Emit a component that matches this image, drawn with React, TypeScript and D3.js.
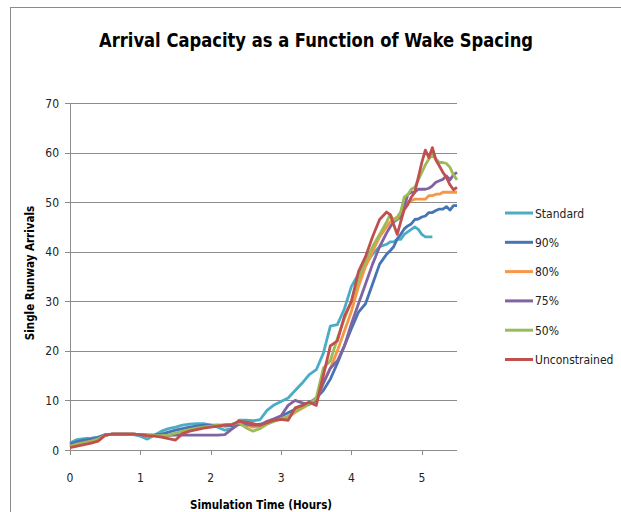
import React from 'react';
import * as d3 from 'd3';

const hours = [
  0, 0.1, 0.2, 0.3, 0.4, 0.5, 0.6, 0.7, 0.8, 0.9,
  1.0, 1.1, 1.2, 1.3, 1.4, 1.5, 1.6, 1.7, 1.8, 1.9,
  2.0, 2.1, 2.2, 2.3, 2.4, 2.5, 2.6, 2.7, 2.8, 2.9,
  3.0, 3.1, 3.2, 3.3, 3.4, 3.5, 3.6, 3.7, 3.8, 3.9,
  4.0, 4.1, 4.2, 4.3, 4.4, 4.5,
  4.55, 4.6, 4.65, 4.7, 4.75, 4.8, 4.85, 4.9, 4.95, 5.0,
  5.05, 5.1, 5.15, 5.2, 5.25, 5.3, 5.35, 5.4, 5.45, 5.5,
];

const standard = [
  1.4, 2.1, 2.3, 2.4, 2.6, 3.1, 3.2, 3.2, 3.2, 3.1,
  2.8, 2.2, 3.0, 3.8, 4.3, 4.6, 5.0, 5.2, 5.3, 5.3,
  5.0, 4.6, 4.0, 4.3, 6.0, 6.0, 5.9, 6.1, 8.0, 9.1,
  9.8, 10.5, 12.0, 13.5, 15.2, 16.2, 19.5, 25, 25.3, 28.5,
  33, 35.5, 37.5, 39.5, 41, 41.5,
  42, 42, 42.5, 42.5, 43.5, 44, 44.5, 45, 44.5, 43.5,
  43, 43, 43, null, null, null, null, null, null, null,
];

const pct90 = [
  1.2, 1.7, 2.0, 2.2, 2.5, 3.0, 3.2, 3.2, 3.2, 3.2,
  3.1, 3.0, 3.0, 3.2, 3.6, 4.0, 4.3, 4.6, 4.8, 5.0,
  5.0, 5.0, 4.8, 4.9, 5.2, 5.0, 5.0, 5.2, 5.6, 6.2,
  6.8, 7.5, 8.2, 8.8, 9.5, 10.5, 12, 14.3, 17.5, 21,
  24.5, 27.8, 29.5, 33.5, 37.5, 39.5,
  40.2, 41, 42.6, 43.5, 44.6, 45.2, 45.6, 46.5, 46.6, 47,
  47.2, 47.9, 47.9, 48.3, 48.6, 48.6, 49.1, 48.4, 49.3, 49.3,
];

const pct80 = [
  0.7, 1.1, 1.4, 1.7, 2.0, 3.0, 3.2, 3.2, 3.2, 3.2,
  3.1, 3.0, 2.9, 2.8, 2.9, 3.2, 3.6, 4.0, 4.3, 4.5,
  4.7, 4.9, 5.0, 5.1, 5.4, 5.0, 4.6, 4.8, 5.3, 5.8,
  6.2, 6.6, 7.6, 8.4, 9.2, 10, 13.5, 16.5, 20, 24,
  28, 33, 37, 40, 43, 45,
  46, 46.5, 47, 48, 50, 50, 50.3, 50.6, 50.6, 50.6,
  50.6, 51.3, 51.3, 51.6, 51.6, 52, 52, 52, 52, 52,
];

const pct75 = [
  0.9, 1.3, 1.6, 1.9, 2.3, 3.0, 3.2, 3.2, 3.2, 3.2,
  3.1, 3.0, 3.0, 3.0, 3.0, 3.0, 3.0, 3.0, 3.0, 3.0,
  3.0, 3.0, 3.1, 4.2, 5.2, 5.2, 5.0, 5.0, 5.8, 6.3,
  6.9, 9.0, 10.0, 9.5, 9.2, 10.0, 13.5, 16.5, 18, 21,
  25.5, 29.5, 33.5, 37.5, 41, 43.8,
  45, 46, 46.5, 47, 49, 51.5, 52, 52, 52.6, 52.6,
  52.6, 52.8, 53.3, 54, 54.3, 54.6, 55.3, 54.5, 55.5, 56,
];

const pct50 = [
  0.8, 1.2, 1.5, 1.8, 2.2, 3.0, 3.2, 3.2, 3.2, 3.2,
  3.1, 3.0, 2.9, 2.9, 3.0, 3.4, 3.8, 4.1, 4.4, 4.6,
  4.8, 5.0, 5.1, 5.2, 5.5, 4.5, 3.8, 4.3, 5.2, 5.8,
  6.3, 6.8, 7.8, 8.5, 9.3, 10.5, 16.5, 18, 22.5, 26.5,
  30, 34.5, 38, 41, 43.5, 46,
  47.5, 46.3, 46.6, 48, 51, 51.5, 52.6, 53, 54.5, 56,
  57.5, 58.7, 59.5, 58.7, 58, 58, 57.8, 57, 55.5, 54.5,
];

const unconstrained = [
  0.5, 0.8, 1.1, 1.4, 1.8, 3.0, 3.2, 3.2, 3.2, 3.2,
  3.1, 2.9, 2.8, 2.6, 2.3, 2.0, 3.3, 3.8, 4.1, 4.4,
  4.6, 4.8, 5.0, 5.1, 5.8, 5.6, 5.3, 5.0, 5.5, 6.0,
  6.2, 6.0, 8.5, 9.0, 9.7, 9.0, 15, 21, 22, 27,
  30, 36, 39, 43, 46.5, 48,
  47.5, 45.5, 43.5, 46, 48.5, 49.5, 51, 52, 55, 58,
  60.5, 59, 61, 58.5, 57.3, 56, 55, 53.5, 52.5, 53,
];

const seriesNames = ['Standard', '90%', '80%', '75%', '50%', 'Unconstrained'];
const seriesValues = [standard, pct90, pct80, pct75, pct50, unconstrained];
const seriesColors = ['#4bacc6', '#4674b4', '#f79646', '#8064a2', '#9bbb59', '#c0504d'];

const xTicks = [0, 1, 2, 3, 4, 5];
const yTicks = [0, 10, 20, 30, 40, 50, 60, 70];

const font = "'DejaVu Sans Condensed', 'Open Sans', sans-serif";

export default function App() {
  const width = 621;
  const height = 512;
  const plot = { left: 70, right: 457, top: 103, bottom: 450 };

  const x = d3.scaleLinear().domain([0, 5.5]).range([plot.left, plot.right]);
  const y = d3.scaleLinear().domain([0, 70]).range([plot.bottom, plot.top]);

  const line = d3.line<number | null>()
    .defined(d => d !== null)
    .x((_, i) => x(hours[i]))
    .y(d => y(d as number));

  const gridColor = '#8c8c8c';

  return (
    <svg width={width} height={height} style={{ position: 'absolute', left: 0, top: 0, background: '#fff' }}>
      <rect x={10.5} y={7.5} width={700} height={600} fill="#fff" stroke="#8a8a8a" strokeWidth={1} />
      <text x={316} y={47} textAnchor="middle" fontFamily={font} fontWeight="bold" fontSize={20}
        textLength={434} lengthAdjust="spacingAndGlyphs" fill="#000">
        Arrival Capacity as a Function of Wake Spacing
      </text>

      {/* grid + y axis */}
      {yTicks.map(t => (
        <g key={t}>
          <line x1={plot.left - 5} x2={plot.right} y1={Math.round(y(t)) + 0.5} y2={Math.round(y(t)) + 0.5}
            stroke={gridColor} strokeWidth={1} />
          <text x={59} y={y(t) + 4.5} textAnchor="end" fontFamily={font} fontSize={12} fill="#222">{t}</text>
        </g>
      ))}
      <line x1={plot.left + 0.5} x2={plot.left + 0.5} y1={plot.top} y2={plot.bottom} stroke={gridColor} />
      {xTicks.map(t => (
        <g key={t}>
          <line x1={Math.round(x(t)) + 0.5} x2={Math.round(x(t)) + 0.5} y1={plot.bottom} y2={plot.bottom + 5}
            stroke={gridColor} />
          <text x={x(t)} y={482} textAnchor="middle" fontFamily={font} fontSize={12} fill="#222">{t}</text>
        </g>
      ))}

      {seriesValues.map((vals, i) => (
        <path key={seriesNames[i]} d={line(vals) || ''} fill="none" stroke={seriesColors[i]}
          strokeWidth={2.8} strokeLinejoin="round" />
      ))}

      <text x={261} y={509} textAnchor="middle" fontFamily={font} fontWeight="bold" fontSize={11.5} fill="#000">
        Simulation Time (Hours)
      </text>
      <text transform="translate(34,273) rotate(-90)" textAnchor="middle" fontFamily={font} fontWeight="bold"
        fontSize={11.5} fill="#000">
        Single Runway Arrivals
      </text>

      {seriesNames.map((name, i) => {
        const ly = 213 + i * 29.3;
        return (
          <g key={name}>
            <line x1={505} x2={533} y1={ly} y2={ly} stroke={seriesColors[i]} strokeWidth={3} />
            <text x={535} y={ly + 4.5} fontFamily={font} fontSize={12} fill="#222">{name}</text>
          </g>
        );
      })}
    </svg>
  );
}
